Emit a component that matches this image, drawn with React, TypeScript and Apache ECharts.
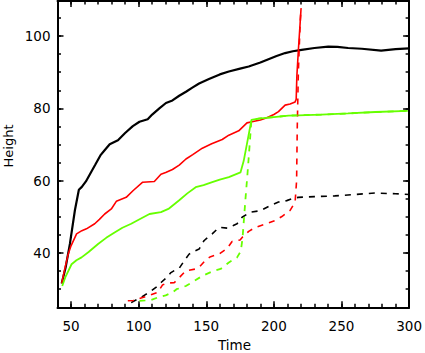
import React, { useEffect, useRef } from "react";
import * as echarts from "echarts";

const xMajorTicks = [50, 100, 150, 200, 250, 300];
const yMajorTicks = [40, 60, 80, 100];

const blackSolid: [number, number][] = [
  [43.1, 31.6], [46, 36], [49.2, 42.6], [52.9, 51.9], [55.8, 57.5], [58, 58.3], [61, 59.8],
  [65, 62.5], [68, 64.5], [71.7, 67.0], [75, 68.5], [78.6, 70.1], [84.7, 71.2], [90, 73.2],
  [95.7, 75.1], [100.6, 76.3], [106.7, 77.0], [110, 78.3], [115.3, 80.0], [120.2, 81.5],
  [125, 82.2], [130, 83.5], [135, 84.6], [140, 85.8], [144.7, 86.9], [152, 88.1], [160, 89.4],
  [166.7, 90.2], [175, 91], [181.4, 91.6], [190, 92.7], [196, 93.6], [202, 94.5], [208.3, 95.3],
  [214, 95.8], [220.5, 96.2], [230, 96.7], [240.2, 97.1], [247, 97.0], [254.9, 96.7],
  [265, 96.5], [279.3, 96.0], [290, 96.4], [300, 96.6],
];

const redSolid: [number, number][] = [
  [43.1, 31.6], [45, 35], [47.9, 39.7], [50, 42], [54.1, 45.3], [58, 46.2], [61.4, 46.7],
  [67.5, 48.1], [71, 49.3], [74.9, 50.8], [79.8, 52.2], [83.5, 54.3], [90.8, 55.4], [96, 57.3],
  [103, 59.6], [111.6, 59.8], [116.5, 61.8], [120, 62.3], [125, 63.1], [130, 64.3], [135, 66],
  [140, 67.2], [147.1, 69.0], [154, 70.2], [161.8, 71.4], [166.7, 72.6], [174, 73.8],
  [180.1, 76.0], [183.8, 76.3], [190, 76.8], [194.8, 77.4], [200, 78.3], [203.4, 79.1],
  [208.3, 80.9], [212, 81.2], [215.7, 81.8], [216.5, 82.5], [217, 89], [218.1, 96],
  [219.4, 103.5], [220.1, 107.7],
];

const greenSolid: [number, number][] = [
  [43.5, 30.9], [46, 33.5], [50.4, 36.9], [54, 38], [57.8, 38.8], [63, 40.3], [70, 42.5],
  [76, 44.2], [82.2, 45.7], [88, 47], [94.5, 48.1], [100, 49.2], [108, 50.8], [116.5, 51.3],
  [122, 52.2], [130, 54.6], [136, 56.5], [142.2, 58.2], [148, 58.8], [154.4, 59.6], [160, 60.3],
  [166.7, 61.0], [175.3, 62.3], [177.7, 65.5], [180.5, 71], [183.4, 76.8], [188.7, 77.2],
  [200, 77.6], [210.8, 78.0], [218.1, 78.1], [235, 78.3], [254.8, 78.6], [275, 79], [299, 79.3],
];

const blackDashed: [number, number][] = [
  [94.5, 26.3], [98, 27], [101.8, 27.7], [105, 28.5], [109.2, 29.5], [113, 30.6], [117, 32],
  [120, 33], [123.9, 34.6], [127, 35.3], [130, 35.8], [134, 38], [137.3, 39.7], [141, 40.5],
  [144.7, 41.1], [148.3, 43.4], [151, 44.3], [154.4, 45.3], [159.4, 47.1], [165.5, 46.9],
  [170, 47.6], [172.8, 48.1], [176.5, 49.9], [182.6, 51.3], [190, 51.7], [197.3, 53.1],
  [203.4, 54.1], [209.5, 54.5], [215, 55.2], [218, 55.4], [230, 55.6], [245, 55.8],
  [260, 56.2], [275, 56.6], [290, 56.4], [300, 56.2],
];

const redDashed: [number, number][] = [
  [92, 26.8], [96, 26.9], [99, 27.2], [103, 27.7], [108, 28.3], [114, 29.1], [117.7, 31.2],
  [121, 31.7], [126.3, 31.8], [130, 33.2], [134.9, 35.1], [142.2, 35.6], [145, 36.2],
  [150, 38.2], [153.2, 39.0], [159.4, 39.7], [165.5, 41.3], [169.1, 43.2], [175, 43.6],
  [177, 44.5], [181.4, 46.0], [186.3, 47.1], [193.7, 48.0], [201, 49.0], [205.9, 50.1],
  [212, 51.8], [215.7, 54.1], [216.8, 60], [217.3, 75], [218.1, 90], [219.4, 103.5],
  [220.1, 107.7],
];

const greenDashed: [number, number][] = [
  [100.6, 26.8], [105, 26.9], [109.2, 27.0], [114, 27.7], [120, 28.3], [125, 29.1], [128, 30],
  [132.4, 30.5], [134.9, 30.9], [140, 32], [147.1, 33.7], [154.4, 34.9], [160.6, 35.6],
  [166.7, 37.4], [172.8, 38.8], [175.5, 40.5], [176.8, 44], [178, 50], [179, 55], [180.5, 62],
  [181.7, 68], [183.4, 76.8], [188.7, 77.2], [200, 77.6], [210.8, 78.0], [218.1, 78.1],
  [235, 78.3], [254.8, 78.6], [275, 79], [299, 79.3],
];

const X_MIN = 40;
const X_MAX = 300;
const Y_MIN = 25;
const Y_MAX = 109.7;

const FONT = "DejaVu Sans";
const GREEN = "#66ff00";

export default function App() {
  const ref = useRef<HTMLDivElement>(null);

  useEffect(() => {
    if (!ref.current) return;
    const chart = echarts.init(ref.current, null, { renderer: "svg" });

    const axisLine = { show: true, onZero: false, lineStyle: { color: "#000", width: 2 } };
    const noLine = { show: false, onZero: false };

    const xBase = { type: "value" as const, min: X_MIN, max: X_MAX, splitLine: { show: false } };
    const yBase = { type: "value" as const, min: Y_MIN, max: Y_MAX, splitLine: { show: false } };

    const majorTick = (vals: number[]) => ({
      show: true, inside: true, length: 6, customValues: vals,
      lineStyle: { color: "#000", width: 1.5 },
    });
    const minorTick = {
      show: true, inside: true, length: 3.5,
      lineStyle: { color: "#000", width: 1.5 },
    };

    const xAxes = [
      {
        ...xBase, position: "bottom", axisLine, axisTick: majorTick(xMajorTicks),
        axisLabel: {
          show: true, customValues: xMajorTicks, margin: 12,
          color: "#000", fontFamily: FONT, fontSize: 13.5,
        },
      },
      { ...xBase, position: "bottom", interval: 10, axisLine: noLine, axisTick: minorTick, axisLabel: { show: false } },
      { ...xBase, position: "top", axisLine, axisTick: majorTick(xMajorTicks), axisLabel: { show: false } },
      { ...xBase, position: "top", interval: 10, axisLine: noLine, axisTick: minorTick, axisLabel: { show: false } },
    ];

    const yAxes = [
      {
        ...yBase, position: "left", axisLine, axisTick: majorTick(yMajorTicks),
        axisLabel: {
          show: true, customValues: yMajorTicks, margin: 7,
          color: "#000", fontFamily: FONT, fontSize: 13.5,
        },
      },
      { ...yBase, position: "left", interval: 5, axisLine: noLine, axisTick: minorTick, axisLabel: { show: false } },
      { ...yBase, position: "right", axisLine, axisTick: majorTick(yMajorTicks), axisLabel: { show: false } },
      { ...yBase, position: "right", interval: 5, axisLine: noLine, axisTick: minorTick, axisLabel: { show: false } },
    ];

    const mk = (data: [number, number][], color: string, width: number, dashed: boolean) => ({
      type: "line",
      data,
      xAxisIndex: 0,
      yAxisIndex: 0,
      showSymbol: false,
      symbol: "none",
      clip: true,
      lineStyle: { color, width, type: dashed ? [6, 6] : "solid" },
    });

    chart.setOption({
      animation: false,
      backgroundColor: "#fff",
      grid: { left: 57.5, right: 13.5, top: 1, bottom: 45.7, containLabel: false },
      xAxis: xAxes,
      yAxis: yAxes,
      series: [
        mk(blackSolid, "#000", 2.2, false),
        mk(redSolid, "#ff0000", 1.6, false),
        mk(greenSolid, GREEN, 1.8, false),
        mk(blackDashed, "#000", 1.6, true),
        mk(redDashed, "#ff0000", 1.6, true),
        mk(greenDashed, GREEN, 1.8, true),
      ],
      graphic: [
        {
          type: "text", x: 234.5, y: 345,
          style: { text: "Time", fill: "#000", font: `13.5px "${FONT}"`, align: "center", verticalAlign: "middle" },
        },
        {
          type: "text", x: 8.5, y: 146, rotation: Math.PI / 2,
          style: { text: "Height", fill: "#000", font: `13px "${FONT}"`, align: "center", verticalAlign: "middle" },
        },
      ],
    });

    return () => chart.dispose();
  }, []);

  return (
    <div
      ref={ref}
      style={{ position: "fixed", left: 0, top: 0, width: 425, height: 353, background: "#fff" }}
    />
  );
}
